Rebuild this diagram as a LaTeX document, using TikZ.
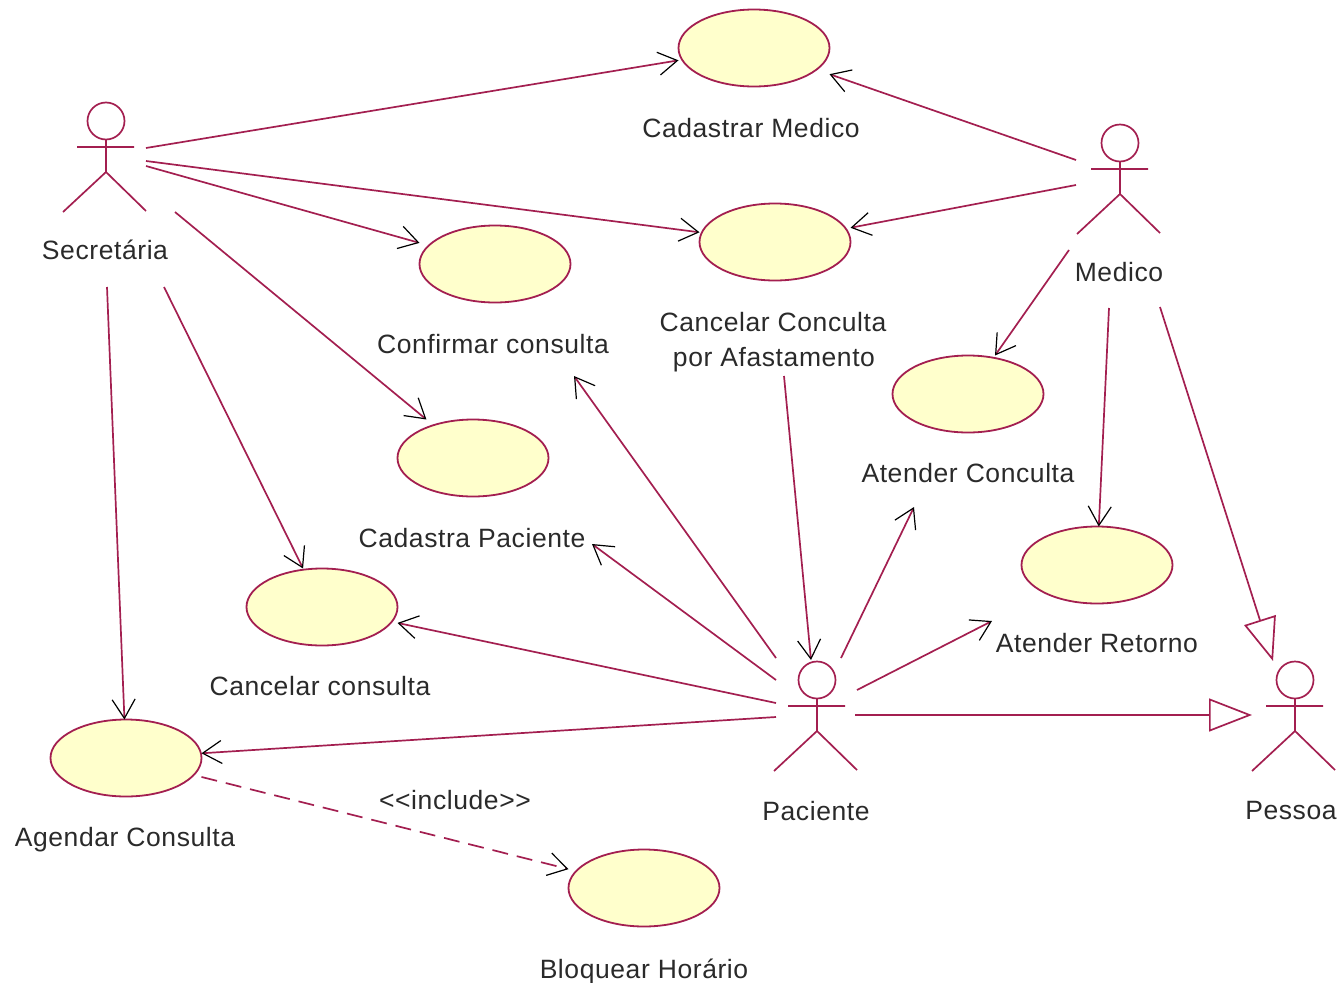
\documentclass[tikz,border=0pt]{standalone}
\usepackage{fontspec}
\setmainfont[LetterSpace=2.2]{Liberation Sans}
\usetikzlibrary{arrows.meta,shapes.geometric}
\definecolor{umlline}{HTML}{A31F50}
\definecolor{umlfill}{HTML}{FFFFCC}
\definecolor{umltext}{HTML}{2A2A2A}
\tikzset{
  usecase/.style={draw=umlline,fill=umlfill,line width=1.8pt,ellipse,inner sep=0pt,outer sep=0pt,minimum width=151pt,minimum height=77pt},
  usecasebox/.style={rectangle,inner sep=0pt,outer sep=0pt,minimum width=151pt,minimum height=77pt},
  actorhead/.style={draw=umlline,line width=1.7pt,circle,inner sep=0pt,outer sep=0pt,minimum size=37pt},
  actorlimb/.style={draw=umlline,line width=1.7pt},
  lbl/.style={text=umltext,font=\fontsize{26.5}{30}\selectfont,inner sep=0pt,align=center},
  assoc/.style={draw=umlline,line width=1.7pt,-{Straight Barb[length=19pt,width=23pt,color=black,line width=1.2pt]}},
  incl/.style={assoc,dash pattern=on 16pt off 9pt},
  gen/.style={draw=umlline,line width=1.7pt,-{Triangle[open,length=43pt,width=33pt,color=umlline,line width=1.7pt]}}
}
\newcommand{\umlactor}[3]{%
  \node[actorhead] (#1) at (#2,#3) {};
  \draw[actorlimb] (#1.south) -- (#2,#3+51) (#2-29,#3+26) -- (#2+28,#3+26)
    (#2-43,#3+91) -- (#2,#3+51) -- (#2+40,#3+90);
}
\newcommand{\umlcase}[3]{%
  \node[usecase] (#1) at (#2,#3) {};
  \node[usecasebox] (#1box) at (#2,#3) {};
}
\begin{document}
\begin{tikzpicture}[x=1pt,y=-1pt]
\useasboundingbox (0,0) rectangle (1342,983);
% use cases
\umlcase{cadmed}{754}{48}
\umlcase{cancmed}{775}{242}
\umlcase{confirm}{495}{264}
\umlcase{atcon}{968}{394}
\umlcase{cadpac}{473}{458}
\umlcase{atret}{1097}{565}
\umlcase{canccon}{322}{607}
\umlcase{agenda}{126}{758}
\umlcase{bloq}{644}{888}
% actors
\umlactor{sec}{106}{121}
\umlactor{med}{1120}{143}
\umlactor{pac}{817}{680}
\umlactor{pes}{1295}{680}
% labels
\node[lbl] (tcadmed) at (751,128) {Cadastrar Medico};
\node[lbl] (tsec) at (105,250) {Secretária};
\node[lbl] (tmed) at (1119,272) {Medico};
\node[lbl] (tconfirm) at (493,344) {Confirmar consulta};
\node[lbl] (tcanc1) at (773,322) {Cancelar Conculta};
\node[lbl] (tcanc2) at (774,360) {por Afastamento};
\node[lbl] (tatcon) at (968,473) {Atender Conculta};
\node[lbl] (tcadpac) at (472,538) {Cadastra Paciente};
\node[lbl] (tatret) at (1097,643) {Atender Retorno};
\node[lbl] (tcanccon) at (320,686) {Cancelar consulta};
\node[lbl] (tpac) at (816,811) {Paciente};
\node[lbl] (tpes) at (1291,811) {Pessoa};
\node[lbl] (tagenda) at (125,840) {Agendar Consulta};
\node[lbl] (tincl) at (455,800) {<{}<include>{}>};
\node[lbl] (tbloq) at (644,971) {Bloquear Horário};
% free ends of connectors
\coordinate (s1) at (146,148);
\coordinate (s2) at (146,161);
\coordinate (s3) at (146,166);
\coordinate (s4) at (175,212);
\coordinate (s5) at (164,287);
\coordinate (s6) at (107,287);
\coordinate (m1) at (1076,160);
\coordinate (m2) at (1076,185);
\coordinate (m3) at (1069,250);
\coordinate (m4) at (1109,308);
\coordinate (m5) at (1160,307);
\coordinate (p1) at (776,658);
\coordinate (p2) at (776,680);
\coordinate (p3) at (776,703);
\coordinate (p4) at (776,717);
\coordinate (p5) at (841,658);
\coordinate (p6) at (857,690);
\coordinate (p7) at (855,715);
\coordinate (cancout) at (784,376);
\coordinate (paciin) at (811,660);
\coordinate (confin) at (574,376);
\coordinate (cadin) at (592,544);
\coordinate (atconin) at (914,507);
\coordinate (atretin) at (992,621);
\coordinate (pesin1) at (1252,715);
\coordinate (pesin2) at (1273,661);
% associations
\draw[assoc] (s1) -- (cadmedbox);
\draw[assoc] (m1) -- (cadmedbox);
\draw[assoc] (s2) -- (cancmedbox);
\draw[assoc] (m2) -- (cancmedbox);
\draw[assoc] (s3) -- (confirmbox);
\draw[assoc] (s4) -- (cadpacbox);
\draw[assoc] (s5) -- (cancconbox);
\draw[assoc] (s6) -- (agendabox);
\draw[assoc] (m3) -- (atconbox);
\draw[assoc] (m4) -- (atretbox);
\draw[assoc] (p1) -- (confin);
\draw[assoc] (p2) -- (cadin);
\draw[assoc] (p3) -- (cancconbox);
\draw[assoc] (p4) -- (agendabox);
\draw[assoc] (cancout) -- (paciin);
\draw[assoc] (p5) -- (atconin);
\draw[assoc] (p6) -- (atretin);
\draw[incl] (agendabox) -- (bloqbox);
% generalisations
\draw[gen] (p7) -- (pesin1);
\draw[gen] (m5) -- (pesin2);
\end{tikzpicture}
\end{document}
